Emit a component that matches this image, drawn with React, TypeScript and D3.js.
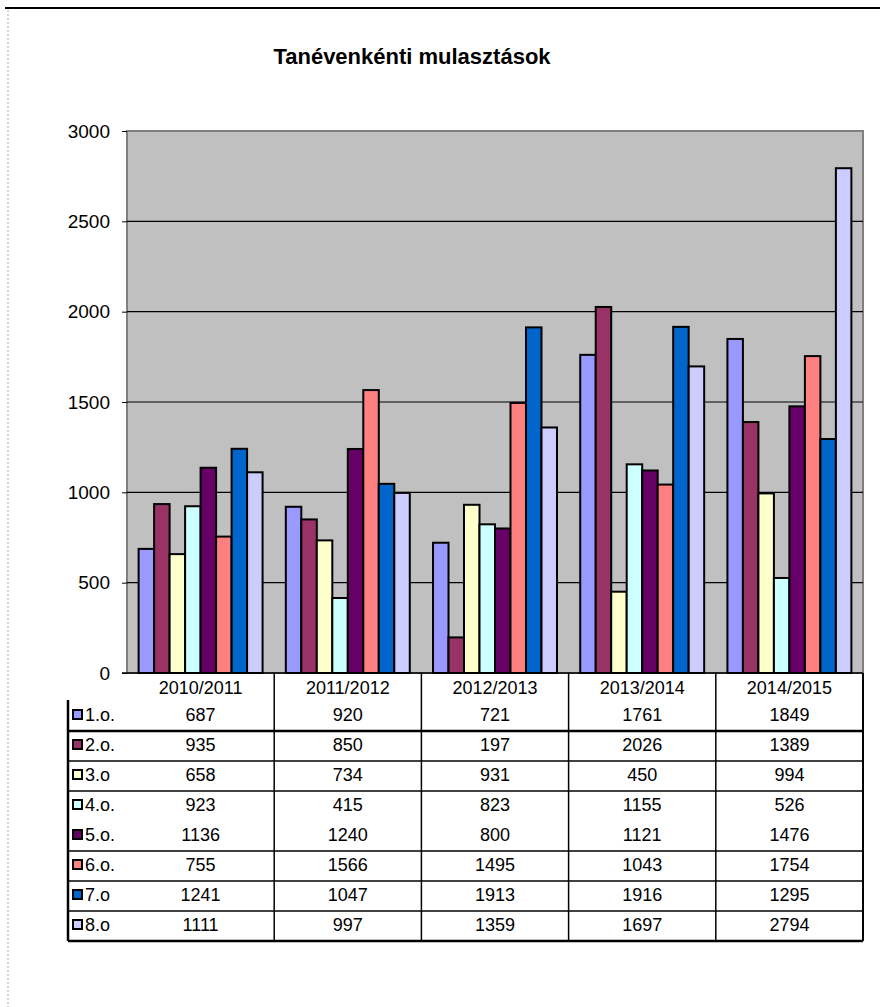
import React, { useRef, useEffect } from "react";
import * as d3 from "d3";

// school years (categories)
const years = ["2010/2011", "2011/2012", "2012/2013", "2013/2014", "2014/2015"];
// grade labels as shown in the data table
const grades = ["1.o.", "2.o.", "3.o", "4.o.", "5.o.", "6.o.", "7.o", "8.o"];
const gradeColors = ["#9999FF", "#993366", "#FFFFCC", "#CCFFFF", "#660066", "#FF8080", "#0066CC", "#CCCCFF"];

// absences per grade, one value per year
const g1 = [687, 920, 721, 1761, 1849];
const g2 = [935, 850, 197, 2026, 1389];
const g3 = [658, 734, 931, 450, 994];
const g4 = [923, 415, 823, 1155, 526];
const g5 = [1136, 1240, 800, 1121, 1476];
const g6 = [755, 1566, 1495, 1043, 1754];
const g7 = [1241, 1047, 1913, 1916, 1295];
const g8 = [1111, 997, 1359, 1697, 2794];
const series = [g1, g2, g3, g4, g5, g6, g7, g8];

const yTicks = [0, 500, 1000, 1500, 2000, 2500, 3000];

const App = () => {
  const svgRef = useRef<SVGSVGElement>(null);

  useEffect(() => {
    const svg = d3.select(svgRef.current);
    svg.selectAll("*").remove();

    const font = "'Liberation Sans', Arial, sans-serif";
    const left = 127,
      right = 863,
      top = 131,
      bottom = 673;

    // page frame
    svg.append("line").attr("x1", 5).attr("x2", 880).attr("y1", 8).attr("y2", 8)
      .attr("stroke", "#000").attr("stroke-width", 2);
    svg.append("line").attr("x1", 8).attr("x2", 8).attr("y1", 10).attr("y2", 1007)
      .attr("stroke", "#aaa").attr("stroke-dasharray", "2,2");

    // title
    svg.append("text")
      .attr("x", 412).attr("y", 64)
      .attr("text-anchor", "middle")
      .style("font-family", font).style("font-weight", "bold").style("font-size", "22px")
      .text("Tanévenkénti mulasztások");

    const x0 = d3.scaleBand().domain(years).range([left, right]);
    const x1 = d3.scaleBand<number>()
      .domain(d3.range(grades.length))
      .range([0, x0.bandwidth()])
      .paddingInner(0)
      .paddingOuter(0.75);
    const y = d3.scaleLinear().domain([0, 3000]).range([bottom, top]);

    // plot area
    svg.append("rect")
      .attr("x", left).attr("y", top)
      .attr("width", right - left).attr("height", bottom - top)
      .attr("fill", "#C0C0C0").attr("stroke", "#808080").attr("stroke-width", 2);

    // gridlines
    svg.append("g").selectAll("line")
      .data(yTicks.filter((t) => t > 0 && t < 3000))
      .enter().append("line")
      .attr("x1", left).attr("x2", right)
      .attr("y1", (d) => y(d)).attr("y2", (d) => y(d))
      .attr("stroke", "#000").attr("stroke-width", 1.2);

    // bars
    const groups = svg.append("g").selectAll("g")
      .data(years)
      .enter().append("g")
      .attr("transform", (d) => `translate(${x0(d)},0)`);
    groups.selectAll("rect")
      .data((_, i) => series.map((s, k) => ({ k, v: s[i] })))
      .enter().append("rect")
      .attr("x", (d) => x1(d.k)!)
      .attr("y", (d) => y(d.v))
      .attr("width", x1.bandwidth())
      .attr("height", (d) => bottom - y(d.v))
      .attr("fill", (d) => gradeColors[d.k])
      .attr("stroke", "#000").attr("stroke-width", 2);

    // y axis
    const yAxis = svg.append("g")
      .attr("transform", `translate(${left},0)`)
      .call(d3.axisLeft(y).tickValues(yTicks).tickSize(5).tickPadding(12).tickFormat(d3.format("d")));
    yAxis.select(".domain").remove();
    yAxis.selectAll("line").attr("stroke", "#000");
    yAxis.selectAll("text").style("font-family", font).style("font-size", "19px").attr("fill", "#000");

    // x axis line
    svg.append("line").attr("x1", 122).attr("x2", right).attr("y1", bottom).attr("y2", bottom)
      .attr("stroke", "#000").attr("stroke-width", 1.5);

    // data table
    const rowH = 30;
    const headY = 688;
    const firstRowTop = 700;
    const tableBottom = firstRowTop + rowH * grades.length + 1;
    const tbl = svg.append("g");
    const tfs = "18px";

    // column separators
    const colEdges = years.map((yr) => x0(yr)! + x0.bandwidth());
    tbl.selectAll(".col")
      .data(colEdges)
      .enter().append("line")
      .attr("x1", (d) => d).attr("x2", (d) => d)
      .attr("y1", bottom).attr("y2", tableBottom)
      .attr("stroke", "#000").attr("stroke-width", (d, i) => (i === colEdges.length - 1 ? 2 : 1.5));

    // left border
    tbl.append("line").attr("x1", 68).attr("x2", 68).attr("y1", firstRowTop).attr("y2", tableBottom)
      .attr("stroke", "#000").attr("stroke-width", 2.5);

    // row lines (the one under 4.o. is missing in the original)
    tbl.selectAll(".row")
      .data(d3.range(1, grades.length + 1).filter((i) => i !== 4))
      .enter().append("line")
      .attr("x1", 68).attr("x2", right)
      .attr("y1", (i) => firstRowTop + rowH * i + 1).attr("y2", (i) => firstRowTop + rowH * i + 1)
      .attr("stroke", "#000")
      .attr("stroke-width", (i) => (i === 1 || i === grades.length ? 2.5 : 1.5));

    // header
    tbl.selectAll(".head")
      .data(years)
      .enter().append("text")
      .attr("x", (d) => x0(d)! + x0.bandwidth() / 2)
      .attr("y", headY)
      .attr("dy", "0.35em")
      .attr("text-anchor", "middle")
      .style("font-family", font).style("font-size", tfs)
      .text((d) => d);

    // rows
    const rows = tbl.selectAll(".r")
      .data(grades)
      .enter().append("g")
      .attr("transform", (_, i) => `translate(0,${firstRowTop + rowH * i + 15})`);
    rows.append("rect")
      .attr("x", 73).attr("y", -5).attr("width", 9).attr("height", 9)
      .attr("fill", (_, i) => gradeColors[i]).attr("stroke", "#000").attr("stroke-width", 2);
    rows.append("text")
      .attr("x", 85).attr("dy", "0.35em")
      .style("font-family", font).style("font-size", tfs)
      .text((d) => d);
    rows.selectAll(".v")
      .data((_, i) => series[i])
      .enter().append("text")
      .attr("x", (_, j) => x0(years[j])! + x0.bandwidth() / 2)
      .attr("dy", "0.35em")
      .attr("text-anchor", "middle")
      .style("font-family", font).style("font-size", tfs)
      .text((d) => d);
  }, []);

  return (
    <svg
      ref={svgRef}
      width={880}
      height={1007}
      style={{ position: "absolute", left: 0, top: 0, background: "#fff" }}
    ></svg>
  );
};

export default App;
